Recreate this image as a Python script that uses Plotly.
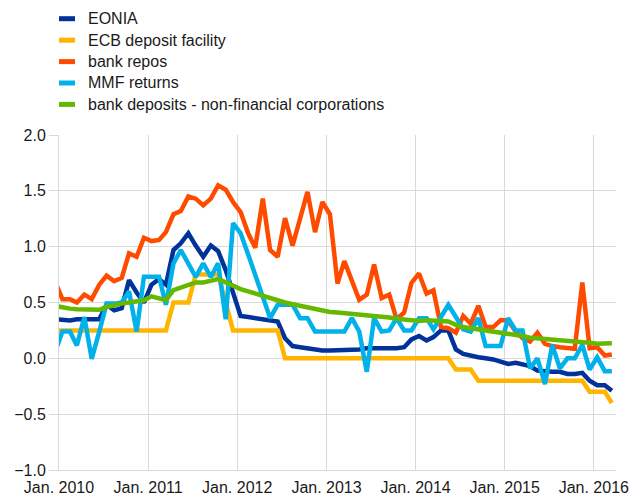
import pandas as pd
import plotly.graph_objects as go

# Monthly observations, Dec 2009 - Mar 2016 (percentages per annum)
months = pd.date_range("2009-12-01", periods=76, freq="MS") + pd.Timedelta(days=14)

eonia = [0.35,
         0.34, 0.34, 0.35, 0.35, 0.34, 0.35, 0.48, 0.43, 0.45, 0.70, 0.59, 0.50,
         0.66, 0.71, 0.66, 0.97, 1.03, 1.12, 1.01, 0.91, 1.01, 0.96, 0.79, 0.60,
         0.38, 0.37, 0.36, 0.35, 0.34, 0.33, 0.18, 0.11, 0.10, 0.09, 0.08, 0.07,
         0.07, 0.07, 0.07, 0.08, 0.08, 0.09, 0.09, 0.08, 0.08, 0.09, 0.10, 0.17,
         0.20, 0.16, 0.19, 0.25, 0.25, 0.08, 0.04, 0.02, 0.01, 0.00, -0.01, -0.03,
         -0.05, -0.04, -0.05, -0.07, -0.11, -0.12, -0.12, -0.12, -0.14, -0.14, -0.13, -0.20,
         -0.24, -0.24, -0.29]

deposit_facility = [0.25,
                    0.25, 0.25, 0.25, 0.25, 0.25, 0.25, 0.25, 0.25, 0.25, 0.25, 0.25, 0.25,
                    0.25, 0.25, 0.25, 0.50, 0.50, 0.50, 0.75, 0.75, 0.75, 0.75, 0.50, 0.25,
                    0.25, 0.25, 0.25, 0.25, 0.25, 0.25, 0.00, 0.00, 0.00, 0.00, 0.00, 0.00,
                    0.00, 0.00, 0.00, 0.00, 0.00, 0.00, 0.00, 0.00, 0.00, 0.00, 0.00, 0.00,
                    0.00, 0.00, 0.00, 0.00, 0.00, -0.10, -0.10, -0.10, -0.20, -0.20, -0.20, -0.20,
                    -0.20, -0.20, -0.20, -0.20, -0.20, -0.20, -0.20, -0.20, -0.20, -0.20, -0.20, -0.30,
                    -0.30, -0.30, -0.40]

bank_repos = [0.69,
              0.53, 0.53, 0.50, 0.57, 0.53, 0.66, 0.74, 0.69, 0.72, 0.94, 0.91, 1.08,
              1.05, 1.06, 1.13, 1.29, 1.32, 1.45, 1.43, 1.37, 1.43, 1.55, 1.51, 1.40,
              1.31, 1.12, 0.99, 1.43, 0.97, 0.91, 1.255, 1.01, 1.24, 1.49, 1.13, 1.40,
              1.29, 0.67, 0.87, 0.69, 0.525, 0.57, 0.84, 0.54, 0.57, 0.35, 0.41, 0.675,
              0.76, 0.58, 0.61, 0.28, 0.27, 0.23, 0.38, 0.31, 0.47, 0.28, 0.28, 0.34,
              0.34, 0.24, 0.18, 0.15, 0.23, 0.13, 0.11, 0.10, 0.09, 0.085, 0.68, 0.09,
              0.10, 0.025, 0.035]

mmf_returns = [0.05,
               0.24, 0.24, 0.115, 0.37, -0.005, 0.24, 0.49, 0.49, 0.50, 0.60, 0.24, 0.73,
               0.73, 0.73, 0.48, 0.85, 0.97, 0.85, 0.73, 0.85, 0.73, 0.85, 0.35, 1.21,
               1.12, 0.93, 0.74, 0.55, 0.36, 0.48, 0.48, 0.48, 0.36, 0.36, 0.24, 0.24,
               0.24, 0.24, 0.24, 0.36, 0.24, -0.12, 0.36, 0.24, 0.25, 0.36, 0.25, 0.25,
               0.36, 0.36, 0.26, 0.37, 0.48, 0.37, 0.26, 0.24, 0.36, 0.11, 0.11, 0.11,
               0.36, 0.25, 0.25, -0.09, 0.00, -0.23, 0.12, -0.09, 0.00, 0.00, 0.12, -0.10,
               0.01, -0.115, -0.115]

nfc_deposits = [0.47,
                0.455, 0.445, 0.44, 0.435, 0.43, 0.435, 0.46, 0.47, 0.49, 0.50, 0.51, 0.52,
                0.555, 0.54, 0.52, 0.61, 0.63, 0.66, 0.68, 0.68, 0.70, 0.71, 0.68, 0.65,
                0.62, 0.60, 0.58, 0.56, 0.54, 0.52, 0.50, 0.485, 0.47, 0.46, 0.45, 0.43,
                0.415, 0.41, 0.405, 0.40, 0.395, 0.39, 0.385, 0.375, 0.365, 0.355, 0.345, 0.34,
                0.335, 0.34, 0.34, 0.335, 0.33, 0.30, 0.28, 0.27, 0.26, 0.25, 0.245, 0.235,
                0.225, 0.21, 0.20, 0.185, 0.18, 0.175, 0.172, 0.168, 0.16, 0.15, 0.145, 0.14,
                0.13, 0.13, 0.135]

series_names = ["EONIA", "ECB deposit facility", "bank repos", "MMF returns",
                "bank deposits - non-financial corporations"]
series_values = [eonia, deposit_facility, bank_repos, mmf_returns, nfc_deposits]
series_colors = ["#003299", "#FFB400", "#FF4B00", "#00B1EA", "#65B800"]

year_ticks = [f"{y}-01-01" for y in range(2010, 2017)]
year_labels = [f"Jan. {y}" for y in range(2010, 2017)]

FONT = "Liberation Sans, Arial, sans-serif"
TEXT = "#1a1a1a"
GRID = "#d9d9d9"

W, H = 643, 497
M_L, M_R, M_T, M_B = 59, 27, 135, 27

fig = go.Figure()
for name, vals, col in zip(series_names, series_values, series_colors):
    fig.add_trace(go.Scatter(x=months, y=vals, name=name, mode="lines",
                             line=dict(color=col, width=4.5),
                             showlegend=False))

# Legend: short colour bars with labels, stacked top-left
plot_w = W - M_L - M_R
plot_h = H - M_T - M_B
row_px = [18.7, 40.2, 61.6, 83.0, 104.4]
for name, col, py in zip(series_names, series_colors, row_px):
    yp = (H - M_B - py) / plot_h
    fig.add_shape(type="rect", xref="paper", yref="paper",
                  x0=(59 - M_L) / plot_w, x1=(75 - M_L) / plot_w,
                  y0=yp - 2.5 / plot_h, y1=yp + 2.5 / plot_h,
                  fillcolor=col, line=dict(width=0))
    fig.add_annotation(xref="paper", yref="paper",
                       x=(86 - M_L) / plot_w, y=yp, text=name,
                       showarrow=False, xanchor="left", yanchor="middle",
                       font=dict(family=FONT, size=16, color=TEXT))

fig.update_layout(
    width=W, height=H,
    margin=dict(l=M_L, r=M_R, t=M_T, b=M_B, autoexpand=False),
    paper_bgcolor="white", plot_bgcolor="white",
    font=dict(family=FONT, size=16, color=TEXT),
    showlegend=False,
)
fig.update_xaxes(type="date", range=["2010-01-01", "2016-04-01"],
                 tickvals=year_ticks, ticktext=year_labels,
                 showgrid=True, gridcolor=GRID, gridwidth=1,
                 showline=True, linecolor=GRID, linewidth=1,
                 ticks="", zeroline=False, automargin=False,
                 ticklabelstandoff=3,
                 tickfont=dict(family=FONT, size=16, color=TEXT))
fig.update_yaxes(range=[-1, 2], dtick=0.5, tick0=0, tickformat=".1f",
                 showgrid=True, gridcolor=GRID, gridwidth=1,
                 showline=True, linecolor=GRID, linewidth=1,
                 ticks="outside", ticklen=9, tickcolor=GRID, tickwidth=1,
                 zeroline=False, automargin=False,
                 tickfont=dict(family=FONT, size=16, color=TEXT))

fig.write_html("out.html")
